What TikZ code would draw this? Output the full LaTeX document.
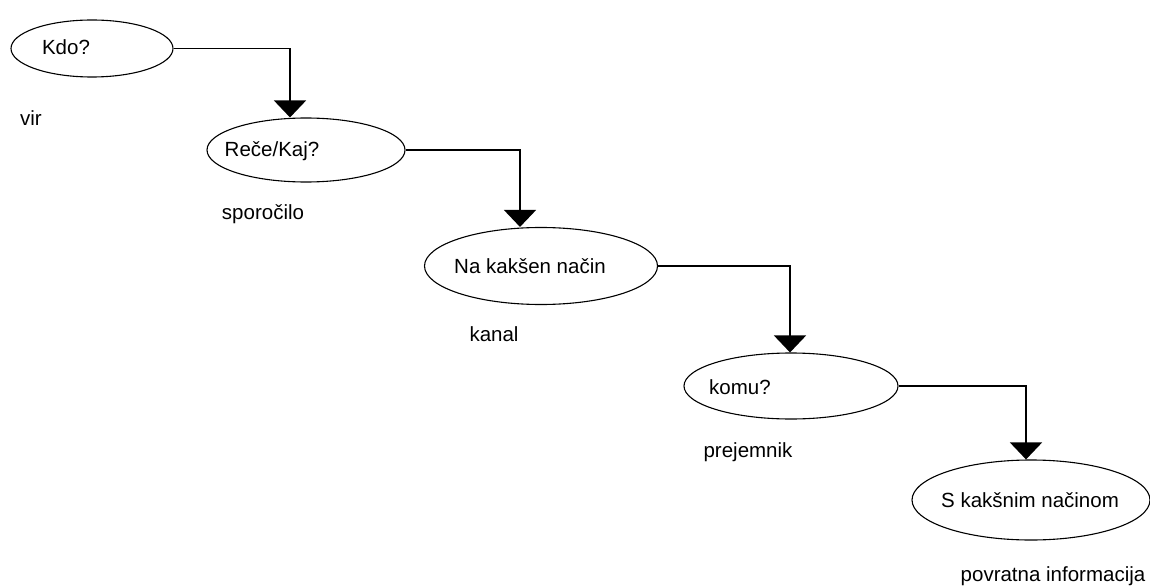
\documentclass[tikz,border=0pt]{standalone}
\usepackage{fontspec}
\setmainfont{Liberation Sans}
\usetikzlibrary{shapes.geometric,arrows.meta,calc}
\begin{document}
\begin{tikzpicture}[x=1pt,y=-1pt,
  oval/.style={ellipse,draw,line width=1.1pt,inner sep=0pt},
  txt/.style={inner sep=0pt,font=\fontsize{20.5}{23}\selectfont},
  conn/.style={line width=1.6pt,-{Triangle[width=32pt,length=17pt]}}]
\useasboundingbox (0,0) rectangle (1150,588);
\node[oval,minimum width=162pt,minimum height=57pt] (e1) at (92,48.5) {};
\node[oval,minimum width=198pt,minimum height=64pt] (e2) at (306,150) {};
\node[oval,minimum width=233pt,minimum height=77pt] (e3) at (541,266) {};
\node[oval,minimum width=214pt,minimum height=66pt] (e4) at (791,386) {};
\node[oval,minimum width=238pt,minimum height=80pt] (e5) at (1031,500) {};
\node[txt] (t1) at (66,47) {Kdo?};
\node[txt] (t2) at (272,151) {Reče/Kaj?};
\node[txt] (t3) at (530,266) {Na kakšen način};
\node[txt] (t4) at (740,387) {komu?};
\node[txt] (t5) at (1030,500) {S kakšnim načinom};
\node[txt] (l1) at (31,118) {vir};
\node[txt] (l2) at (263,214) {sporočilo};
\node[txt] (l3) at (494,334) {kanal};
\node[txt] (l4) at (748,452) {prejemnik};
\node[txt] (l5) at (1053,576) {povratna informacija};
\draw[conn] (e1.east) -| ($(e2.north)+(-16,0)$);
\draw[conn] (e2.east) -| ($(e3.north)+(-21,0)$);
\draw[conn] (e3.east) -| ($(e4.north)+(-1,0)$);
\draw[conn] (e4.east) -| ($(e5.north)+(-5,0)$);
\end{tikzpicture}
\end{document}
